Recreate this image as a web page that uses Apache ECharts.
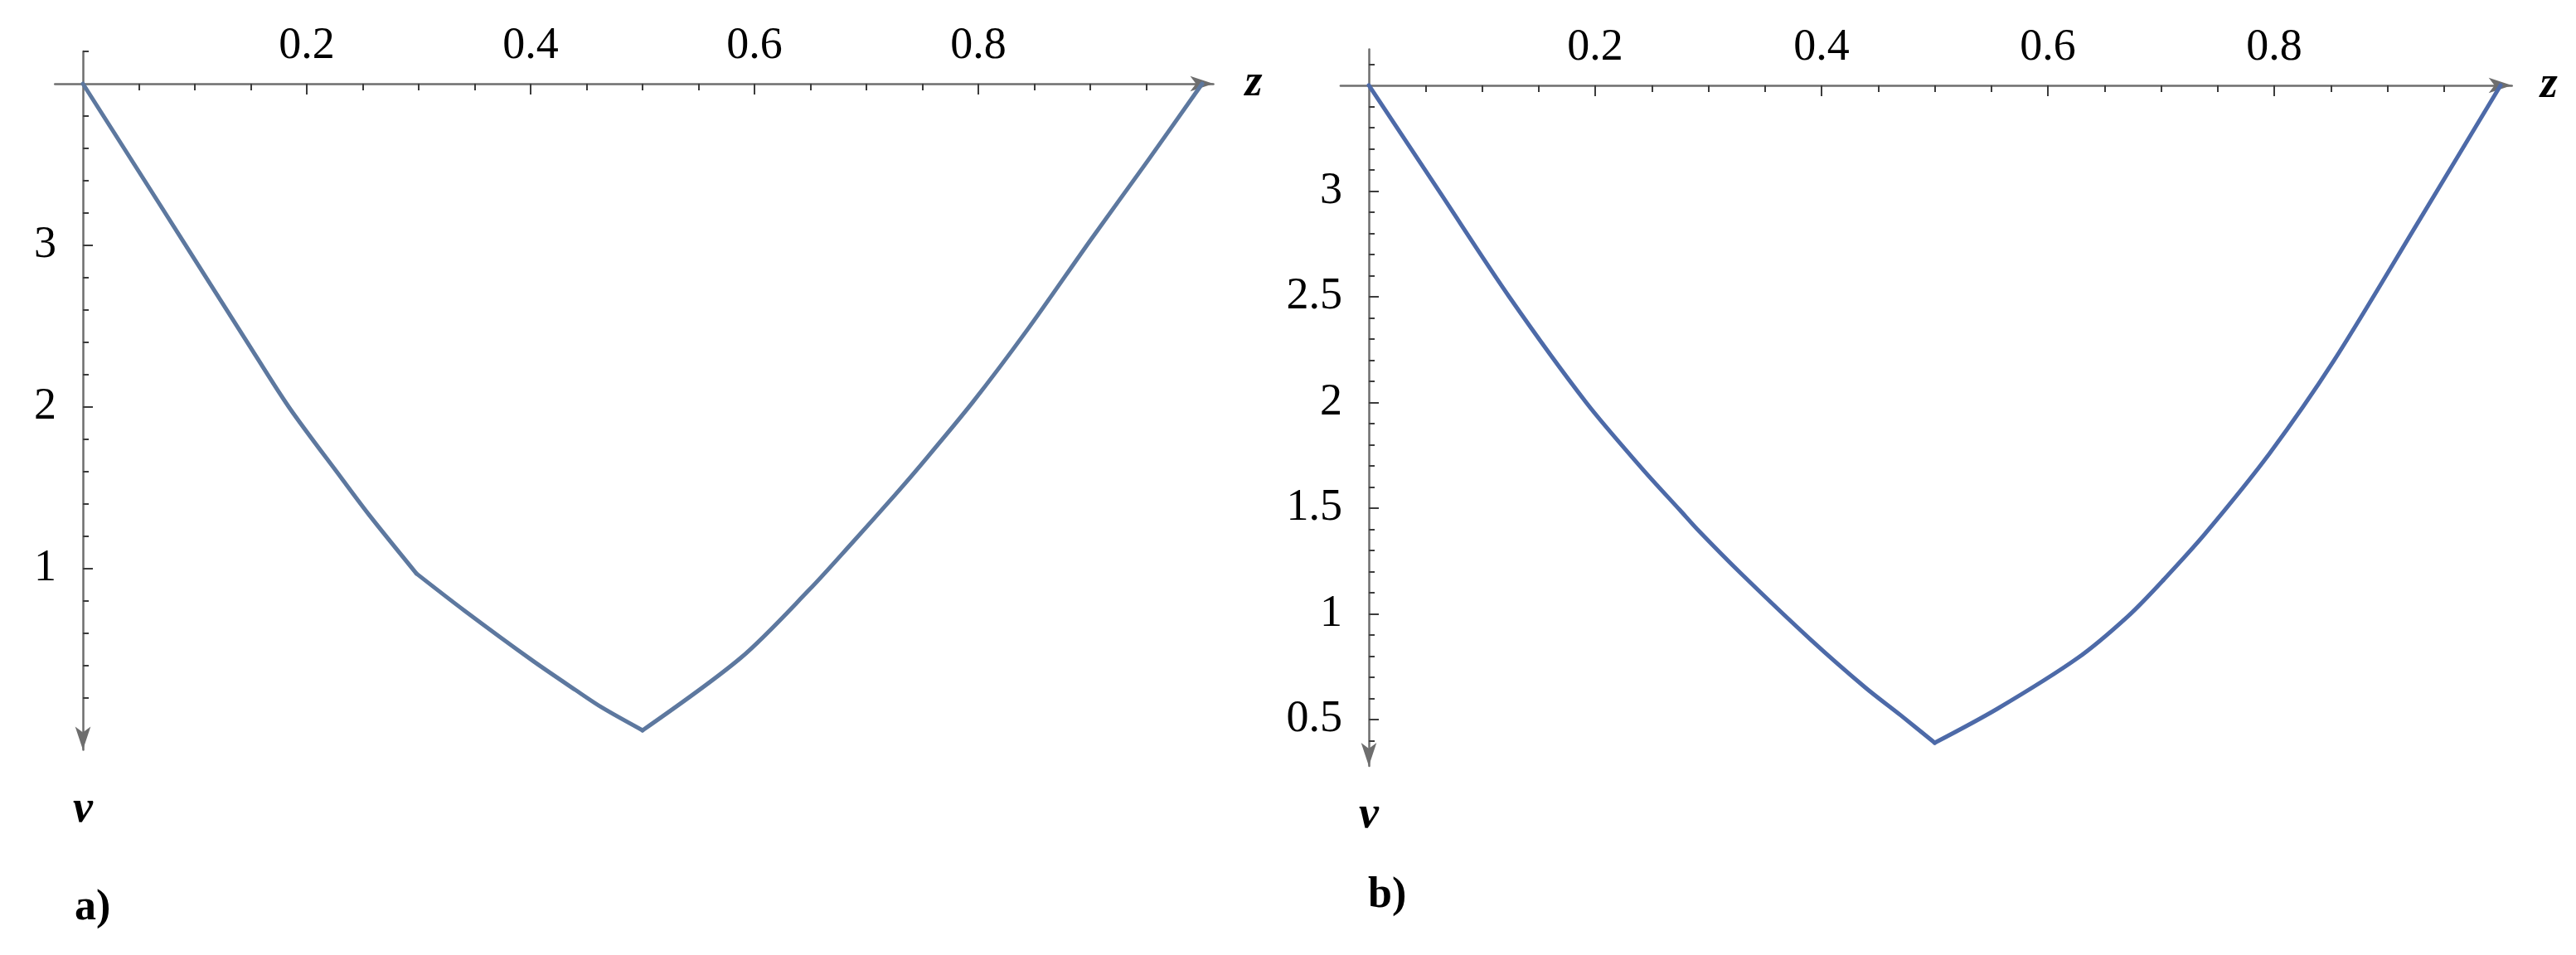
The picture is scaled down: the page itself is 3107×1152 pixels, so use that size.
<!DOCTYPE html>
<html>
<head>
<meta charset="utf-8">
<title>v(z)</title>
<script src="https://cdn.jsdelivr.net/npm/echarts@6/dist/echarts.min.js"></script>
<style>
    html, body { margin: 0; padding: 0; background: #fff; }
    #chart { width: 3107px; height: 1152px; }
</style>
</head>
<body>
<div id="chart"></div>
<script>
// panel a) curve
const zA = [0, 0.046, 0.091, 0.146, 0.184, 0.231, 0.256, 0.298, 0.341, 0.402, 0.44, 0.464, 0.5,
    0.588, 0.649, 0.686, 0.726, 0.746, 0.795, 0.844, 0.901, 0.951, 1.0];
const vA = [4, 3.5, 3.01, 2.41, 2.0, 1.56, 1.33, 0.97, 0.74, 0.43, 0.25, 0.14, 0.0,
    0.45, 0.87, 1.15, 1.46, 1.62, 2.03, 2.48, 3.04, 3.52, 4.0];
// indices of the corners in panel a)
const cornersA = [7, 12];

// panel b) curve
const zB = [0, 0.062, 0.124, 0.192, 0.241, 0.275, 0.292, 0.329, 0.39, 0.439, 0.47, 0.5,
    0.555, 0.626, 0.671, 0.702, 0.739, 0.796, 0.853, 0.928, 1.0];
const vB = [3.5, 3.0, 2.5, 2.0, 1.69, 1.49, 1.39, 1.19, 0.88, 0.65, 0.52, 0.39,
    0.55, 0.79, 0.99, 1.16, 1.38, 1.76, 2.2, 2.86, 3.5];
const cornersB = [11, 15];

// tick marks
const zMajorTicks = [0.2, 0.4, 0.6, 0.8];
const zMinorTicks = [0.05, 0.1, 0.15, 0.25, 0.3, 0.35, 0.45, 0.5, 0.55, 0.65, 0.7, 0.75, 0.85, 0.9, 0.95];
const vMajorTicksA = [1, 2, 3];
const vMinorTicksA = [0.2, 0.4, 0.6, 0.8, 1.2, 1.4, 1.6, 1.8, 2.2, 2.4, 2.6, 2.8, 3.2, 3.4, 3.6, 3.8, 4.2];
const vMajorTicksB = [0.5, 1, 1.5, 2, 2.5, 3];
const vMinorTicksB = [0.4, 0.6, 0.7, 0.8, 0.9, 1.1, 1.2, 1.3, 1.4, 1.6, 1.7, 1.8, 1.9,
    2.1, 2.2, 2.3, 2.4, 2.6, 2.7, 2.8, 2.9, 3.1, 3.2, 3.3, 3.4, 3.6];

const FONT = 'Liberation Serif';
const AXIS_COLOR = '#6e6e6e';
const TICK_COLOR = '#3c3c3c';

function xAxes(gridIndex, offset, nameGap) {
    return [{
        type: 'value', gridIndex: gridIndex, position: 'top', offset: offset,
        min: -0.025, max: 1.01,
        name: 'z', nameLocation: 'end', nameGap: nameGap,
        nameTextStyle: { fontFamily: FONT, fontSize: 54, fontStyle: 'italic', fontWeight: 'bold', color: '#000', verticalAlign: 'middle' },
        axisLine: { show: true, onZero: false, symbol: ['none', 'arrow'], symbolSize: [14, 28], lineStyle: { color: AXIS_COLOR, width: 2.5 } },
        axisTick: { show: true, inside: true, length: 13, customValues: zMajorTicks, lineStyle: { color: TICK_COLOR, width: 2 } },
        axisLabel: { show: true, margin: 18, customValues: zMajorTicks, fontFamily: FONT, fontSize: 54, color: '#000' },
        splitLine: { show: false }
    }, {
        type: 'value', gridIndex: gridIndex, position: 'top', offset: offset,
        min: -0.025, max: 1.01,
        axisLine: { show: false, onZero: false },
        axisTick: { show: true, inside: true, length: 8, customValues: zMinorTicks, lineStyle: { color: TICK_COLOR, width: 2 } },
        axisLabel: { show: false },
        splitLine: { show: false }
    }];
}

function yAxes(gridIndex, offset, min, max, major, minor, nameGap) {
    return [{
        type: 'value', gridIndex: gridIndex, position: 'left', offset: offset,
        min: min, max: max,
        name: 'v', nameLocation: 'start', nameGap: nameGap,
        nameTextStyle: { fontFamily: FONT, fontSize: 54, fontStyle: 'italic', fontWeight: 'bold', color: '#000', verticalAlign: 'middle' },
        axisLine: { show: true, onZero: false, symbol: ['arrow', 'none'], symbolSize: [14, 28], lineStyle: { color: AXIS_COLOR, width: 2.5 } },
        axisTick: { show: true, inside: true, length: 12, customValues: major, lineStyle: { color: TICK_COLOR, width: 2 } },
        axisLabel: { show: true, margin: 32, customValues: major, fontFamily: FONT, fontSize: 54, color: '#000' },
        splitLine: { show: false }
    }, {
        type: 'value', gridIndex: gridIndex, position: 'left', offset: offset,
        min: min, max: max,
        axisLine: { show: false, onZero: false },
        axisTick: { show: true, inside: true, length: 7, customValues: minor, lineStyle: { color: TICK_COLOR, width: 2 } },
        axisLabel: { show: false },
        splitLine: { show: false }
    }];
}

// one smooth line piece between each pair of corners
function curvePieces(z, v, corners, xAxisIndex, yAxisIndex, color) {
    const cuts = [0].concat(corners, [z.length - 1]);
    const pieces = [];
    for (let k = 0; k < cuts.length - 1; k++) {
        const data = [];
        for (let i = cuts[k]; i <= cuts[k + 1]; i++) {
            data.push([z[i], v[i]]);
        }
        pieces.push({
            type: 'line', xAxisIndex: xAxisIndex, yAxisIndex: yAxisIndex,
            data: data,
            showSymbol: false, smooth: 0.3,
            lineStyle: { color: color, width: 5, cap: 'round', join: 'round' }
        });
    }
    return pieces;
}

function initChart() {
    const chart = echarts.init(document.getElementById('chart'));
    chart.setOption({
        backgroundColor: '#fff',
        animation: false,
        grid: [
            { left: 66.25, top: 62, width: 1397.25, height: 842.4, containLabel: false, outerBoundsMode: 'none' },
            { left: 1616.9, top: 59.6, width: 1412.8, height: 864.5, containLabel: false, outerBoundsMode: 'none' }
        ],
        xAxis: [].concat(xAxes(0, -39, 38), xAxes(1, -43.4, 34)),
        yAxis: [].concat(
            yAxes(0, -33.75, -0.12, 4.2, vMajorTicksA, vMinorTicksA, 73),
            yAxes(1, -34.1, 0.28, 3.67, vMajorTicksB, vMinorTicksB, 60)
        ),
        series: [].concat(
            curvePieces(zA, vA, cornersA, 0, 0, '#5d789f'),
            curvePieces(zB, vB, cornersB, 2, 2, '#4d6aa8')
        ),
        graphic: [
            { type: 'text', left: 90, top: 1070, style: { text: 'a)', font: 'bold 52px "Liberation Serif"', fill: '#000' } },
            { type: 'text', left: 1650, top: 1055, style: { text: 'b)', font: 'bold 52px "Liberation Serif"', fill: '#000' } }
        ]
    });

    window.addEventListener('resize', function () {
        chart.resize();
    });
}

document.addEventListener('DOMContentLoaded', initChart);
</script>
</body>
</html>
